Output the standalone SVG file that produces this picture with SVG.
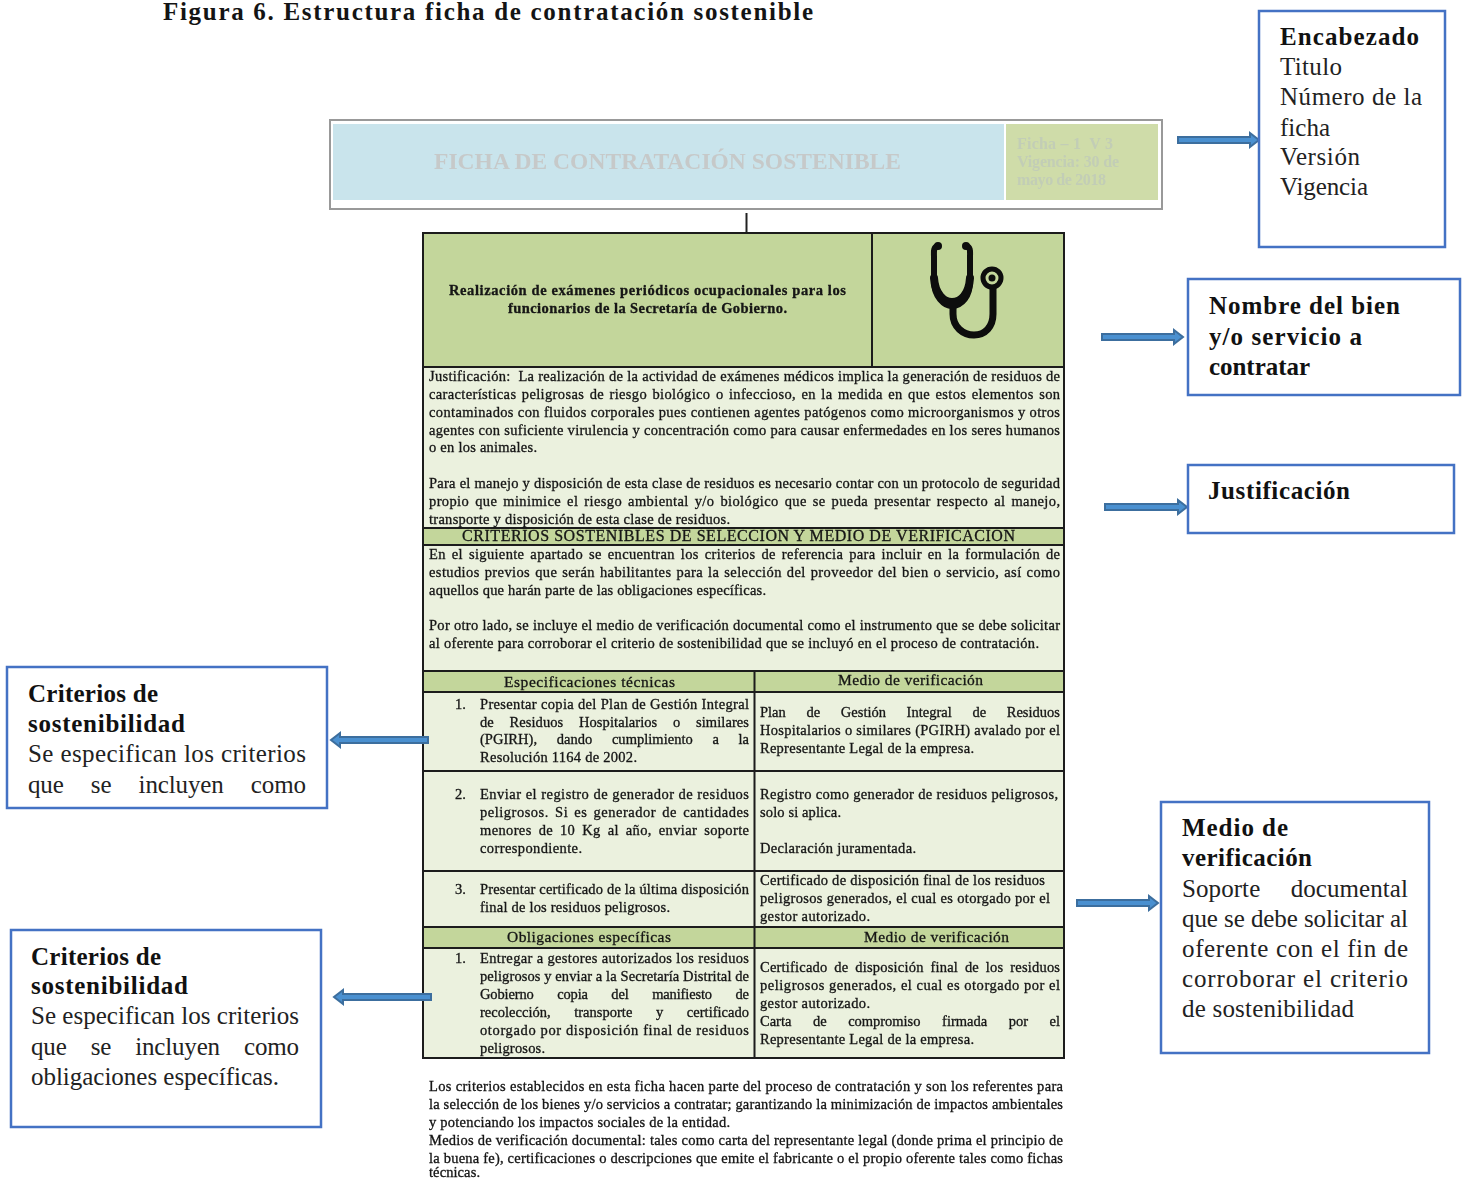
<svg xmlns="http://www.w3.org/2000/svg" width="1463" height="1180" viewBox="0 0 1463 1180">
<style>
text{font-family:"Liberation Serif","Times New Roman",serif;fill:#141414;white-space:pre}
.b{font-size:14.5px;stroke:#141414;stroke-width:.3px}
.h{font-size:16px;stroke:#141414;stroke-width:.3px}
.t{font-size:15.500px;stroke:#141414;stroke-width:.3px}
.c{font-size:25px;fill:#222}
.cb{font-size:25px;font-weight:bold;fill:#111}
.box{fill:#fff;stroke:#4472c4;stroke-width:2.500}
.cell{stroke:#1a1a1a;stroke-width:2}
.lg{fill:#ebf1de}
.dg{fill:#c3d69b}
.arr{fill:#4a90d0;stroke:#3c6e9e;stroke-width:2}
.soft{filter:url(#s)}
.fs{font-size:16px;font-weight:bold;fill:#c2cdb6}
</style>
<defs>
<filter id="s" x="-2%" y="-2%" width="104%" height="104%"><feGaussianBlur stdDeviation="0.45"/></filter>
</defs>
<rect width="1463" height="1180" fill="#fff"/>
<text id="title" x="163" y="20" font-size="25" font-weight="bold" textLength="650">Figura 6. Estructura ficha de contratación sostenible</text>

<g id="ficha-header" class="soft">
<rect x="330" y="120" width="832" height="89" fill="#fff" stroke="#999" stroke-width="2"/>
<rect x="333" y="124" width="671" height="76" fill="#c9e4ec"/>
<rect x="1006" y="124" width="152" height="76" fill="#cfdca9"/>
<text x="434" y="169" font-size="23.500" font-weight="bold" textLength="467" style="fill:#c6c9c9">FICHA DE CONTRATACIÓN SOSTENIBLE</text>
<text class="fs" x="1017" y="149" textLength="96">Ficha – 1  V 3</text>
<text class="fs" x="1017" y="167" textLength="102">Vigencia: 30 de</text>
<text class="fs" x="1017" y="185" textLength="89">mayo de 2018</text>
</g>

<g id="ficha-table" class="soft">
<line x1="746.500" y1="213" x2="746.500" y2="232" stroke="#222" stroke-width="2"/>
<rect class="dg" x="423" y="233" width="641" height="134"/>
<rect class="lg" x="423" y="367" width="641" height="161"/>
<rect class="dg" x="423" y="528" width="641" height="17"/>
<rect class="lg" x="423" y="545" width="641" height="126"/>
<rect class="dg" x="423" y="671" width="641" height="21"/>
<rect class="lg" x="423" y="692" width="641" height="235"/>
<rect class="dg" x="423" y="927" width="641" height="21"/>
<rect class="lg" x="423" y="948" width="641" height="110"/>
<g class="cell" fill="none">
<rect x="423" y="233" width="641" height="825"/>
<path d="M423 367H1064M423 528H1064M423 545H1064M423 671H1064M423 692H1064M423 771H1064M423 871H1064M423 927H1064M423 948H1064M872 233V367M754.500 671V1058"/>
</g>
<g id="stethoscope" fill="none" stroke="#0a0a0a" stroke-linecap="round">
<path d="M938 246C933 247 934 252 934 258V282C934 296 944 306 952 306C962 306 970 296 970 282V258C970 252 971 247 966 246" stroke-width="6"/>
<path d="M934 278C935 294 944 302 952 302C961 302 969 294 970 278" stroke-width="8"/>
<path d="M953 306V314C953 327 963 335 974 335C985 335 993 327 993 314V289" stroke-width="7"/>
<circle cx="992" cy="278" r="9" stroke-width="5"/>
<circle cx="992" cy="278" r="3.500" fill="#0a0a0a" stroke="none"/>
<circle cx="938" cy="246" r="4" fill="#0a0a0a" stroke="none"/>
<circle cx="966" cy="246" r="4" fill="#0a0a0a" stroke="none"/>
</g>
<text class="b" x="449" y="295" textLength="397" font-weight="bold">Realización de exámenes periódicos ocupacionales para los</text>
<text class="b" x="508" y="313" textLength="279" font-weight="bold">funcionarios de la Secretaría de Gobierno.</text>

<g id="justificacion-text">
<text class="b" x="429" y="380.500" textLength="631">Justificación:  La realización de la actividad de exámenes médicos implica la generación de residuos de</text>
<text class="b" x="429" y="398.500" textLength="631" word-spacing="1.500">características peligrosas de riesgo biológico o infeccioso, en la medida en que estos elementos son</text>
<text class="b" x="429" y="416.500" textLength="631">contaminados con fluidos corporales pues contienen agentes patógenos como microorganismos y otros</text>
<text class="b" x="429" y="434.500" textLength="631">agentes con suficiente virulencia y concentración como para causar enfermedades en los seres humanos</text>
<text class="b" x="429" y="451.500" textLength="108">o en los animales.</text>
<text class="b" x="429" y="487.500" textLength="631">Para el manejo y disposición de esta clase de residuos es necesario contar con un protocolo de seguridad</text>
<text class="b" x="429" y="505.500" textLength="631" word-spacing="2">propio que minimice el riesgo ambiental y/o biológico que se pueda presentar respecto al manejo,</text>
<text class="b" x="429" y="523.500" textLength="301">transporte y disposición de esta clase de residuos.</text>
</g>
<text class="h" x="462" y="541" textLength="553">CRITERIOS SOSTENIBLES DE SELECCION Y MEDIO DE VERIFICACION</text>
<g id="criterios-text">
<text class="b" x="429" y="558.500" textLength="631" word-spacing="2">En el siguiente apartado se encuentran los criterios de referencia para incluir en la formulación de</text>
<text class="b" x="429" y="576.500" textLength="631" word-spacing="1">estudios previos que serán habilitantes para la selección del proveedor del bien o servicio, así como</text>
<text class="b" x="429" y="594.500" textLength="337">aquellos que harán parte de las obligaciones específicas.</text>
<text class="b" x="429" y="629.500" textLength="631">Por otro lado, se incluye el medio de verificación documental como el instrumento que se debe solicitar</text>
<text class="b" x="429" y="647.500" textLength="610">al oferente para corroborar el criterio de sostenibilidad que se incluyó en el proceso de contratación.</text>
</g>
<text class="t" x="504" y="687" textLength="171">Especificaciones técnicas</text>
<text class="t" x="838" y="685" textLength="145">Medio de verificación</text>

<g id="fila-1">
<text class="b" x="455" y="708.500">1.</text>
<text class="b" x="480" y="708.500" textLength="269">Presentar copia del Plan de Gestión Integral</text>
<text class="b" x="480" y="726.500" textLength="269" word-spacing="12">de Residuos Hospitalarios o similares</text>
<text class="b" x="480" y="743.500" textLength="269" word-spacing="16">(PGIRH), dando cumplimiento a la</text>
<text class="b" x="480" y="761.500" textLength="157">Resolución 1164 de 2002.</text>
<text class="b" x="760" y="716.500" textLength="300" word-spacing="17">Plan de Gestión Integral de Residuos</text>
<text class="b" x="760" y="734.500" textLength="300">Hospitalarios o similares (PGIRH) avalado por el</text>
<text class="b" x="760" y="752.500" textLength="214">Representante Legal de la empresa.</text>
</g>
<g id="fila-2">
<text class="b" x="455" y="798.500">2.</text>
<text class="b" x="480" y="798.500" textLength="269">Enviar el registro de generador de residuos</text>
<text class="b" x="480" y="816.500" textLength="269" word-spacing="2">peligrosos. Si es generador de cantidades</text>
<text class="b" x="480" y="834.500" textLength="269" word-spacing="3">menores de 10 Kg al año, enviar soporte</text>
<text class="b" x="480" y="852.500" textLength="102">correspondiente.</text>
<text class="b" x="760" y="798.500" textLength="298">Registro como generador de residuos peligrosos,</text>
<text class="b" x="760" y="816.500" textLength="81">solo si aplica.</text>
<text class="b" x="760" y="852.500" textLength="156">Declaración juramentada.</text>
</g>
<g id="fila-3">
<text class="b" x="455" y="893.500">3.</text>
<text class="b" x="480" y="893.500" textLength="269">Presentar certificado de la última disposición</text>
<text class="b" x="480" y="911.500" textLength="190">final de los residuos peligrosos.</text>
<text class="b" x="760" y="884.500" textLength="285">Certificado de disposición final de los residuos</text>
<text class="b" x="760" y="902.500" textLength="290">peligrosos generados, el cual es otorgado por el</text>
<text class="b" x="760" y="920.500" textLength="110">gestor autorizado.</text>
</g>
<text class="t" x="507" y="942" textLength="164">Obligaciones específicas</text>
<text class="t" x="864" y="942" textLength="145">Medio de verificación</text>
<g id="fila-obligaciones">
<text class="b" x="455" y="962.500">1.</text>
<text class="b" x="480" y="962.500" textLength="269">Entregar a gestores autorizados los residuos</text>
<text class="b" x="480" y="980.500" textLength="269">peligrosos y enviar a la Secretaría Distrital de</text>
<text class="b" x="480" y="998.500" textLength="269" word-spacing="20">Gobierno copia del manifiesto de</text>
<text class="b" x="480" y="1016.500" textLength="269" word-spacing="20">recolección, transporte y certificado</text>
<text class="b" x="480" y="1034.500" textLength="269">otorgado por disposición final de residuos</text>
<text class="b" x="480" y="1052.500" textLength="65">peligrosos.</text>
<text class="b" x="760" y="971.500" textLength="300" word-spacing="3">Certificado de disposición final de los residuos</text>
<text class="b" x="760" y="989.500" textLength="300">peligrosos generados, el cual es otorgado por el</text>
<text class="b" x="760" y="1007.500" textLength="110">gestor autorizado.</text>
<text class="b" x="760" y="1025.500" textLength="300" word-spacing="18">Carta de compromiso firmada por el</text>
<text class="b" x="760" y="1043.500" textLength="214">Representante Legal de la empresa.</text>
</g>
<g id="nota">
<text class="b" x="429" y="1090.500" textLength="634">Los criterios establecidos en esta ficha hacen parte del proceso de contratación y son los referentes para</text>
<text class="b" x="429" y="1108.500" textLength="634">la selección de los bienes y/o servicios a contratar; garantizando la minimización de impactos ambientales</text>
<text class="b" x="429" y="1126.500" textLength="301">y potenciando los impactos sociales de la entidad.</text>
<text class="b" x="429" y="1144.500" textLength="634">Medios de verificación documental: tales como carta del representante legal (donde prima el principio de</text>
<text class="b" x="429" y="1162.500" textLength="634">la buena fe), certificaciones o descripciones que emite el fabricante o el propio oferente tales como fichas</text>
<text class="b" x="429" y="1177" textLength="51">técnicas.</text>
</g>
</g>

<g id="connectors">
<path class="arr" d="M1178 137H1250V133L1259 140L1250 147V143H1178Z"/>
<path class="arr" d="M1102 334H1174V330L1183 337L1174 344V340H1102Z"/>
<path class="arr" d="M1105 504H1178V500L1187 507L1178 514V510H1105Z"/>
<path class="arr" d="M1077 900H1149V896L1158 903L1149 910V906H1077Z"/>
<path class="arr" d="M428 737H340V733L331 740L340 747V743H428Z"/>
<path class="arr" d="M431 994H343V990L334 997L343 1004V1000H431Z"/>
</g>

<g id="encabezado">
<rect class="box" x="1259" y="11" width="186" height="236"/>
<text class="cb" x="1280" y="45" textLength="139">Encabezado</text>
<text class="c" x="1280" y="75" textLength="62">Titulo</text>
<text class="c" x="1280" y="105" textLength="142">Número de la</text>
<text class="c" x="1280" y="136" textLength="50">ficha</text>
<text class="c" x="1280" y="165" textLength="80">Versión</text>
<text class="c" x="1280" y="195" textLength="88">Vigencia</text>
</g>
<g id="nombre-bien">
<rect class="box" x="1188" y="279" width="272" height="116"/>
<text class="cb" x="1209" y="314" textLength="191">Nombre del bien</text>
<text class="cb" x="1209" y="345" textLength="153">y/o servicio a</text>
<text class="cb" x="1209" y="375" textLength="101">contratar</text>
</g>
<g id="justificacion">
<rect class="box" x="1188" y="465" width="266" height="68"/>
<text class="cb" x="1208" y="499" textLength="142">Justificación</text>
</g>
<g id="criterios-1">
<rect class="box" x="7" y="667" width="320" height="141"/>
<text class="cb" x="28" y="702" textLength="130">Criterios de</text>
<text class="cb" x="28" y="732" textLength="157">sostenibilidad</text>
<text class="c" x="28" y="762" textLength="278">Se especifican los criterios</text>
<text class="c" x="28" y="793" textLength="278" word-spacing="21">que se incluyen como</text>
</g>
<g id="criterios-2">
<rect class="box" x="11" y="930" width="310" height="197"/>
<text class="cb" x="31" y="965" textLength="130">Criterios de</text>
<text class="cb" x="31" y="994" textLength="157">sostenibilidad</text>
<text class="c" x="31" y="1024" textLength="268">Se especifican los criterios</text>
<text class="c" x="31" y="1055" textLength="268" word-spacing="18">que se incluyen como</text>
<text class="c" x="31" y="1085" textLength="248">obligaciones específicas.</text>
</g>
<g id="medio-verificacion">
<rect class="box" x="1161" y="802" width="268" height="251"/>
<text class="cb" x="1182" y="836" textLength="106">Medio de</text>
<text class="cb" x="1182" y="866" textLength="130">verificación</text>
<text class="c" x="1182" y="897" textLength="226" word-spacing="24">Soporte documental</text>
<text class="c" x="1182" y="927" textLength="226">que se debe solicitar al</text>
<text class="c" x="1182" y="957" textLength="226">oferente con el fin de</text>
<text class="c" x="1182" y="987" textLength="226">corroborar el criterio</text>
<text class="c" x="1182" y="1017" textLength="172">de sostenibilidad</text>
</g>
</svg>
